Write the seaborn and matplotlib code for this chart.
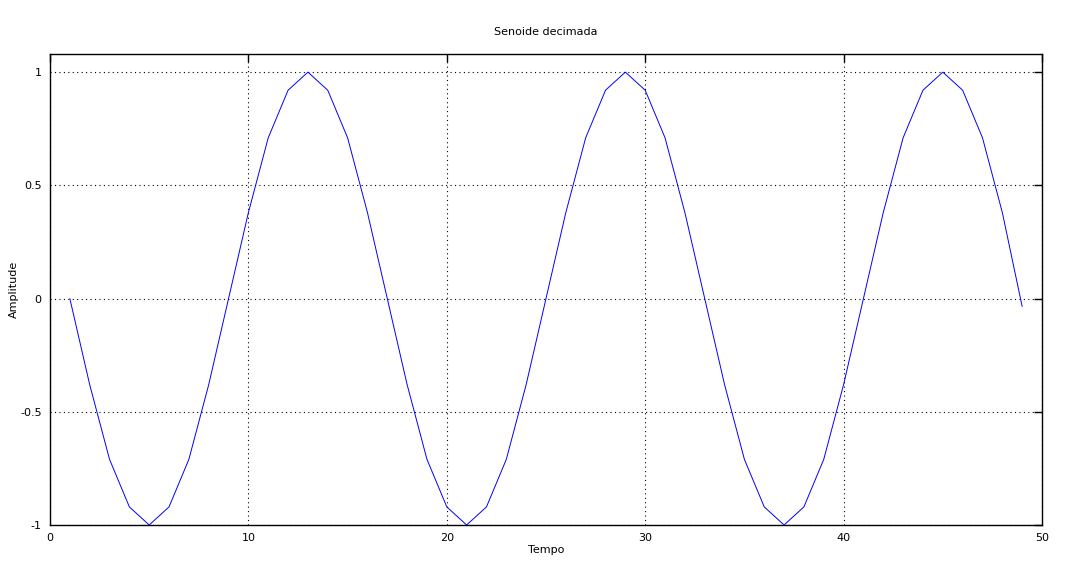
import matplotlib
matplotlib.use("Agg")
import matplotlib.pyplot as plt
import seaborn as sns
import pandas as pd

# samples of the decimated sine
tempo = list(range(1, 50))
amplitude = [
    0.00, -0.38, -0.71, -0.92, -1.00, -0.92, -0.71, -0.38,
    0.00, 0.38, 0.71, 0.92, 1.00, 0.92, 0.71, 0.38,
    0.00, -0.38, -0.71, -0.92, -1.00, -0.92, -0.71, -0.38,
    0.00, 0.38, 0.71, 0.92, 1.00, 0.92, 0.71, 0.38,
    0.00, -0.38, -0.71, -0.92, -1.00, -0.92, -0.71, -0.38,
    0.00, 0.38, 0.71, 0.92, 1.00, 0.92, 0.71, 0.38,
    -0.035,
]
xticks = [0, 10, 20, 30, 40, 50]
yticks = [-1, -0.5, 0, 0.5, 1]
yticklabels = ["-1", "-0.5", "0", "0.5", "1"]

df = pd.DataFrame({"Tempo": tempo, "Amplitude": amplitude})

sns.set_style("white")
plt.rcParams["font.family"] = ["DejaVu Sans"]
plt.rcParams["text.color"] = "black"
plt.rcParams["xtick.color"] = "black"
plt.rcParams["ytick.color"] = "black"

fig = plt.figure(figsize=(10.7, 5.71), dpi=100)
ax = fig.add_axes([50 / 1070, 1 - 525 / 571, 992 / 1070, 471 / 571])

sns.lineplot(data=df, x="Tempo", y="Amplitude", ax=ax, color="#0000ff", linewidth=0.7)

ax.set_xlim(0, 50)
ax.set_ylim(-1, 1.08)
ax.set_xticks(xticks)
ax.set_xticklabels([str(t) for t in xticks])
ax.set_yticks(yticks)
ax.set_yticklabels(yticklabels)
ax.tick_params(direction="in", length=6, width=1, labelsize=8, top=True, right=True,
               labeltop=False, labelright=False, pad=6, labelcolor="black", color="black")
ax.grid(True, linestyle=(0, (1, 3)), color="black", linewidth=0.8)
for s in ax.spines.values():
    s.set_color("black")
    s.set_linewidth(1)

ax.set_xlabel("Tempo", fontsize=8, labelpad=1, color="black")
ax.set_ylabel("Amplitude", fontsize=8, color="black")
ax.yaxis.set_label_coords(-31 / 992, 0.5)
fig.text(546 / 1070, 1 - 32 / 571, "Senoide decimada", fontsize=8, ha="center", va="center")

fig.savefig("out.png", dpi=100)
